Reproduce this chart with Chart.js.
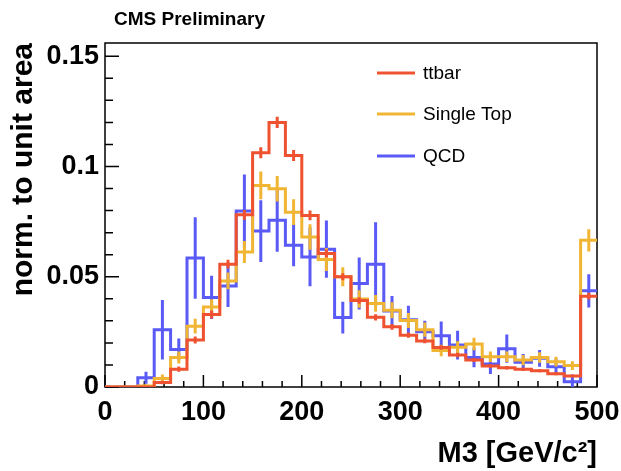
<!DOCTYPE html>
<html><head><meta charset="utf-8">
<script src="https://cdn.jsdelivr.net/npm/chart.js@4"></script>
<style>html,body{margin:0;padding:0;background:#fff;overflow:hidden}</style>
</head><body>
<canvas id="c" width="621" height="471"></canvas>
<script>
// ---- data (30 bins, 0..500 GeV/c^2) ----
const binLow = 0;
const binHigh = 500;
const nBins = 30;
const seriesNames = ['ttbar', 'Single Top', 'QCD'];
const ttbar = [0, 0, 0, 0.002, 0.0081, 0.0213, 0.0329, 0.0557, 0.0781, 0.1062, 0.120, 0.105, 0.0778, 0.0605, 0.050,
  0.0392, 0.0316, 0.0273, 0.0235, 0.0209, 0.0179, 0.0145, 0.0122, 0.0095, 0.0087, 0.008, 0.0074, 0.006, 0.005, 0.0412];
const ttbarErr = [0, 0, 0, 0.0008, 0.0012, 0.0016, 0.0018, 0.002, 0.0022, 0.0025, 0.0026, 0.0025, 0.0022, 0.0018, 0.0016,
  0.0015, 0.0014, 0.0013, 0.0012, 0.0011, 0.001, 0.001, 0.0009, 0.0008, 0.0008, 0.0007, 0.0007, 0.0007, 0.0006, 0.0015];
const singleTop = [0, 0, 0.0005, 0.0039, 0.0134, 0.0276, 0.0363, 0.0481, 0.0612, 0.0914, 0.0899, 0.0793, 0.068, 0.0578, 0.050,
  0.0399, 0.0379, 0.0348, 0.0302, 0.026, 0.0166, 0.018, 0.0195, 0.0137, 0.0137, 0.0122, 0.0134, 0.0115, 0.0097, 0.0665];
const singleTopErr = [0, 0, 0.0008, 0.0018, 0.0027, 0.0033, 0.0035, 0.0038, 0.005, 0.0063, 0.0058, 0.0058, 0.0058, 0.0052, 0.0043,
  0.004, 0.0038, 0.0036, 0.0034, 0.0032, 0.0026, 0.0028, 0.0028, 0.0024, 0.0024, 0.0023, 0.0024, 0.0022, 0.002, 0.005];
const qcd = [0, 0, 0.0042, 0.026, 0.017, 0.0585, 0.0406, 0.0458, 0.0798, 0.0707, 0.0756, 0.0643, 0.059, 0.0625, 0.0315,
  0.0469, 0.0557, 0.0345, 0.0305, 0.025, 0.0232, 0.019, 0.0134, 0.0104, 0.0174, 0.0112, 0.013, 0.0092, 0.0024, 0.0436];
const qcdErr = [0, 0, 0.0027, 0.0135, 0.005, 0.0185, 0.0098, 0.0095, 0.0166, 0.014, 0.0143, 0.0095, 0.0133, 0.013, 0.0072,
  0.0118, 0.019, 0.0068, 0.0063, 0.005, 0.0065, 0.0065, 0.0045, 0.0045, 0.0064, 0.0038, 0.0038, 0.0036, 0.0033, 0.0075];
const xTicks = [0, 100, 200, 300, 400, 500];
const xTickLabels = ['0', '100', '200', '300', '400', '500'];
const yTicks = [0, 0.05, 0.1, 0.15];
const yTickLabels = ['0', '0.05', '0.1', '0.15'];
const xMinorStep = 20;
const yMinorStep = 0.01;

// ---- derived ----
const edges = Array.from({length: nBins + 1}, (_, i) => binLow + i * (binHigh - binLow) / nBins);
const centers = edges.slice(0, nBins).map((e, i) => (e + edges[i + 1]) / 2);
function stepPoints(vals) {
  const pts = vals.map((v, i) => ({x: edges[i], y: v}));
  pts.push({x: edges[nBins], y: vals[nBins - 1]});
  return pts;
}
const RED = '#ef5230', YEL = '#f1b534', BLU = '#5a5af6';
const FONT = "'Liberation Sans', Arial, Helvetica, sans-serif";

const framePlugin = {
  id: 'frame',
  beforeDatasetsDraw(chart) {
    const {ctx, chartArea: a, scales: {x, y}} = chart;
    ctx.save();
    ctx.strokeStyle = '#000';
    ctx.lineWidth = 1.5;
    ctx.strokeRect(a.left, a.top, a.right - a.left, a.bottom - a.top);
    ctx.beginPath();
    for (let v = x.min; v <= x.max + 1e-9; v += xMinorStep) {
      const px = x.getPixelForValue(v);
      const major = xTicks.some(t => Math.abs(t - v) < 1e-6);
      ctx.moveTo(px, a.bottom);
      ctx.lineTo(px, a.bottom - (major ? 12 : 6));
    }
    for (let k = 0; k * yMinorStep <= y.max + 1e-9; k++) {
      const v = k * yMinorStep;
      const py = y.getPixelForValue(v);
      const major = yTicks.some(t => Math.abs(t - v) < 1e-6);
      ctx.moveTo(a.left, py);
      ctx.lineTo(a.left + (major ? 14 : 8), py);
    }
    ctx.stroke();
    ctx.restore();
  }
};

const errPlugin = {
  id: 'errbars',
  afterDatasetDraw(chart, args) {
    const ds = chart.data.datasets[args.index];
    const vals = ds.values, errs = ds.errors;
    const {ctx, scales: {x, y}} = chart;
    ctx.save();
    ctx.strokeStyle = ds.borderColor;
    ctx.lineWidth = ds.borderWidth;
    ctx.beginPath();
    vals.forEach((v, i) => {
      if (!errs[i]) return;
      const px = x.getPixelForValue(centers[i]);
      ctx.moveTo(px, y.getPixelForValue(Math.max(0, v - errs[i])));
      ctx.lineTo(px, y.getPixelForValue(v + errs[i]));
    });
    ctx.stroke();
    ctx.restore();
  }
};

const textPlugin = {
  id: 'texts',
  afterDraw(chart) {
    const {ctx} = chart;
    ctx.save();
    ctx.fillStyle = '#000';
    ctx.textBaseline = 'middle';
    ctx.textAlign = 'left';
    ctx.font = "bold 19px " + FONT;
    ctx.fillText('CMS Preliminary', 114, 20);
    const ys = [73, 114, 156];
    chart.data.datasets.forEach((ds, i) => {
      ctx.strokeStyle = ds.borderColor;
      ctx.lineWidth = 3;
      ctx.beginPath();
      ctx.moveTo(377, ys[i]);
      ctx.lineTo(415, ys[i]);
      ctx.stroke();
      ctx.font = "19px " + FONT;
      ctx.fillStyle = '#000';
      ctx.fillText(ds.label, 423, ys[i] + 1);
    });
    ctx.restore();
  }
};

function mkDs(label, vals, errs, color) {
  return {label, data: stepPoints(vals), values: vals, errors: errs, borderColor: color, borderWidth: 3,
    stepped: 'before', pointRadius: 0, fill: false, tension: 0};
}

new Chart(document.getElementById('c').getContext('2d'), {
  type: 'line',
  data: {datasets: [
    mkDs(seriesNames[0], ttbar, ttbarErr, RED),
    mkDs(seriesNames[1], singleTop, singleTopErr, YEL),
    mkDs(seriesNames[2], qcd, qcdErr, BLU)
  ]},
  options: {
    responsive: false, animation: false, devicePixelRatio: 1,
    layout: {padding: {left: 0, right: 24, top: 43, bottom: 0}},
    plugins: {legend: {display: false}, tooltip: {enabled: false}, title: {display: false}},
    scales: {
      x: {
        type: 'linear', min: binLow, max: binHigh,
        afterBuildTicks: s => { s.ticks = xTicks.map(v => ({value: v})); },
        afterFit: s => { s.height = 84; s.paddingLeft = 0; s.paddingRight = 0; },
        ticks: {callback: (v) => xTickLabels[xTicks.indexOf(v)], autoSkip: false, maxRotation: 0,
          font: {family: FONT, weight: 'bold', size: 27}, color: '#000', padding: 9},
        grid: {display: false, drawTicks: false}, border: {display: false},
        title: {display: true, text: 'M3 [GeV/c²]', align: 'end', color: '#000',
          font: {family: FONT, weight: 'bold', size: 29}, padding: {top: 0, bottom: 0}}
      },
      y: {
        min: 0, max: 0.156,
        afterBuildTicks: s => { s.ticks = yTicks.map(v => ({value: v})); },
        afterFit: s => { s.width = 105; s.paddingTop = 0; s.paddingBottom = 0; },
        ticks: {callback: (v) => yTickLabels[yTicks.indexOf(v)], autoSkip: false,
          font: {family: FONT, weight: 'bold', size: 27}, color: '#000', padding: 6},
        grid: {display: false, drawTicks: false}, border: {display: false},
        title: {display: true, text: 'norm. to unit area', align: 'end', color: '#000',
          font: {family: FONT, weight: 'bold', size: 30}, padding: {top: 6, bottom: 0}}
      }
    }
  },
  plugins: [framePlugin, errPlugin, textPlugin]
});
</script>
</body></html>
